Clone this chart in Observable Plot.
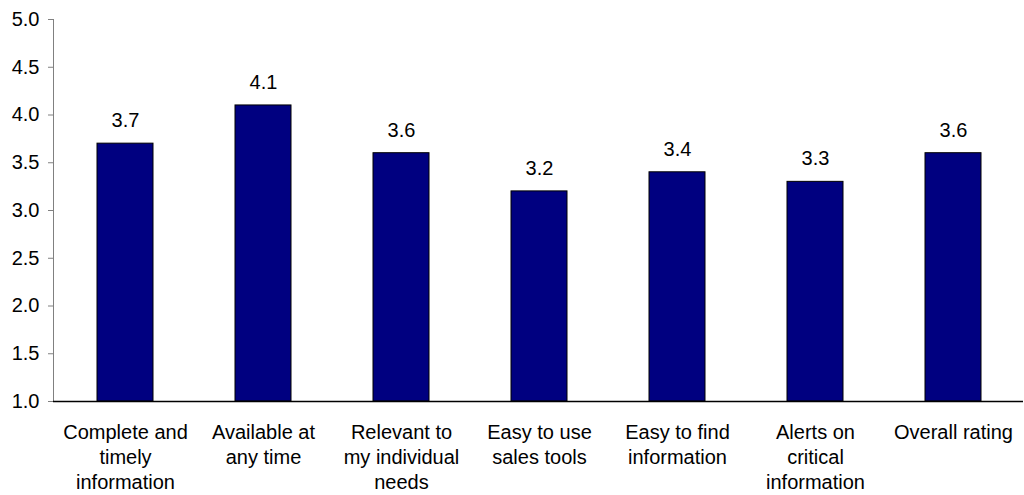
<!DOCTYPE html>
<html>
<head>
<meta charset="utf-8">
<script src="https://cdn.jsdelivr.net/npm/d3@7"></script>
<script src="https://cdn.jsdelivr.net/npm/@observablehq/plot@0.6"></script>
<style>
  html, body { margin: 0; padding: 0; background: #fff; }
  #chart svg { display: block; }
</style>
</head>
<body>
<div id="chart"></div>
<script>
const categories = [
  "Complete and\ntimely\ninformation",
  "Available at\nany time",
  "Relevant to\nmy individual\nneeds",
  "Easy to use\nsales tools",
  "Easy to find\ninformation",
  "Alerts on\ncritical\ninformation",
  "Overall rating"
];
const values = [3.7, 4.1, 3.6, 3.2, 3.4, 3.3, 3.6];
const yTicks = [1.0, 1.5, 2.0, 2.5, 3.0, 3.5, 4.0, 4.5, 5.0];

const data = categories.map((c, i) => ({category: c, value: values[i]}));
const font = "Liberation Sans, Arial, sans-serif";

const chart = Plot.plot({
  width: 1024,
  height: 495,
  marginLeft: 53,
  marginRight: 1,
  marginTop: 19,
  marginBottom: 94,
  style: {fontFamily: font, fontSize: "20px", color: "#000", background: "#fff"},
  x: {domain: categories, range: [56, 1023], paddingInner: 0.594, paddingOuter: 0.297, label: null},
  y: {domain: [1, 5], label: null},
  marks: [
    Plot.barY(data, {x: "category", y1: 1, y2: "value", fill: "#000080", stroke: "#000", strokeWidth: 1}),
    Plot.text(data, {x: "category", y: "value", text: d => d.value.toFixed(1), dy: -23, fontSize: 20, fill: "#000"}),
    Plot.axisY({ticks: yTicks, tickFormat: d => d.toFixed(1), tickSize: 5, tickPadding: 9, stroke: "#808080", fill: "#000", fontSize: 20, label: null}),
    Plot.frame({anchor: "left", stroke: "#808080"}),
    Plot.ruleY([1], {stroke: "#000", strokeWidth: 1.5}),
    Plot.axisX({tickSize: 0, tickPadding: 19, fontSize: 20, lineHeight: 1.27, fill: "#000", label: null})
  ]
});
document.getElementById("chart").appendChild(chart);
</script>
</body>
</html>
